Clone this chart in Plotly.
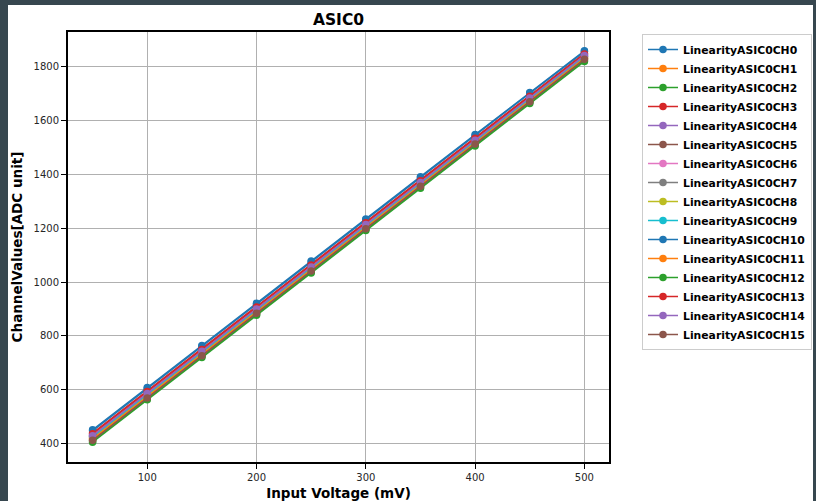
import plotly.graph_objects as go

voltages = [50, 100, 150, 200, 250, 300, 350, 400, 450, 500]

channel_names = [f"LinearityASIC0CH{i}" for i in range(16)]

ch0 = [452, 609, 765, 921, 1078, 1234, 1391, 1547, 1703, 1858]
ch1 = [420, 577, 734, 891, 1048, 1205, 1362, 1519, 1676, 1832]
ch2 = [410, 567, 724, 881, 1038, 1195, 1352, 1509, 1666, 1822]
ch3 = [440, 597, 753, 910, 1066, 1223, 1379, 1536, 1692, 1848]
ch4 = [432, 589, 745, 902, 1058, 1215, 1371, 1528, 1684, 1842]
ch5 = [415, 572, 729, 886, 1043, 1200, 1357, 1514, 1671, 1828]
ch6 = [434, 591, 747, 904, 1060, 1217, 1373, 1530, 1686, 1844]
ch7 = [428, 585, 741, 898, 1055, 1211, 1368, 1525, 1681, 1838]
ch8 = [424, 581, 738, 894, 1051, 1208, 1364, 1521, 1678, 1835]
ch9 = [426, 583, 740, 896, 1053, 1210, 1366, 1523, 1680, 1837]
ch10 = [448, 605, 761, 918, 1074, 1231, 1387, 1544, 1700, 1855]
ch11 = [418, 575, 732, 889, 1046, 1203, 1360, 1517, 1674, 1830]
ch12 = [406, 563, 720, 877, 1034, 1191, 1348, 1505, 1662, 1818]
ch13 = [437, 594, 750, 907, 1063, 1220, 1376, 1533, 1689, 1846]
ch14 = [430, 587, 743, 900, 1056, 1213, 1369, 1526, 1683, 1840]
ch15 = [413, 570, 727, 884, 1041, 1198, 1355, 1512, 1669, 1826]

channel_values = [ch0, ch1, ch2, ch3, ch4, ch5, ch6, ch7,
                  ch8, ch9, ch10, ch11, ch12, ch13, ch14, ch15]

x_ticks = [100, 200, 300, 400, 500]
y_ticks = [400, 600, 800, 1000, 1200, 1400, 1600, 1800]

palette = ["#1f77b4", "#ff7f0e", "#2ca02c", "#d62728", "#9467bd",
           "#8c564b", "#e377c2", "#7f7f7f", "#bcbd22", "#17becf"]

fig = go.Figure()
for i, (name, vals) in enumerate(zip(channel_names, channel_values)):
    c = palette[i % len(palette)]
    fig.add_trace(go.Scatter(
        x=voltages, y=vals, name=name, mode="lines+markers",
        line=dict(color=c, width=1.5),
        marker=dict(color=c, size=7.5, symbol="circle"),
    ))

W, H = 816, 501
L, R, T, B = 68, 207, 32, 39
pw, ph = W - L - R, H - T - B

def px(xp):
    return (xp - L) / pw

def py(yp):
    return (H - B - yp) / ph

fig.update_layout(
    width=W, height=H, autosize=False,
    margin=dict(l=L, r=R, t=T, b=B, pad=0),
    paper_bgcolor="#37474f",
    plot_bgcolor="white",
    font=dict(family="DejaVu Sans", color="#262626"),
    title=dict(text="<b>ASIC0</b>", xref="container", yref="container",
               x=338.5 / W, xanchor="center",
               y=1 - 20 / H, yanchor="middle",
               font=dict(size=15.5, color="black", family="DejaVu Sans")),
    shapes=[dict(type="rect", xref="paper", yref="paper",
                 x0=px(8), x1=px(813), y0=py(503), y1=py(5),
                 fillcolor="white", line=dict(width=0), layer="below")],
    legend=dict(
        xref="container", yref="container",
        x=642 / W, y=1 - 34 / H, xanchor="left", yanchor="top",
        maxheight=1000,
        bgcolor="white", bordercolor="#cccccc", borderwidth=1,
        font=dict(family="DejaVu Sans", size=10.8, color="black", weight="bold"),
        itemwidth=30,
    ),
    showlegend=True,
)

fig.update_xaxes(
    range=[27.5, 522.5], tickvals=x_ticks, ticktext=[str(v) for v in x_ticks],
    automargin=False,
    showgrid=True, gridcolor="#b0b0b0", gridwidth=1,
    showline=True, linecolor="black", linewidth=2, mirror=True,
    ticks="outside", ticklen=5, tickwidth=1.2, tickcolor="black",
    tickfont=dict(size=10, color="#262626"), zeroline=False,
    title=dict(text="<b>Input Voltage (mV)</b>", standoff=8,
               font=dict(size=13.5, color="black")),
)
fig.update_yaxes(
    range=[332.5, 1927.5], tickvals=y_ticks, ticktext=[str(v) for v in y_ticks],
    automargin=False,
    showgrid=True, gridcolor="#b0b0b0", gridwidth=1,
    showline=True, linecolor="black", linewidth=2, mirror=True,
    ticks="outside", ticklen=5, tickwidth=1.2, tickcolor="black",
    tickfont=dict(size=10, color="#262626"), zeroline=False,
    title=dict(text="<b>ChannelValues[ADC unit]</b>", standoff=8,
               font=dict(size=13.5, color="black")),
)

post = (
    "document.documentElement.style.margin='0';"
    "document.documentElement.style.overflow='hidden';"
    "document.body.style.margin='0';document.body.style.padding='0';"
    "document.body.style.overflow='hidden';"
)

fig.write_html("out.html",
               config={"responsive": False, "displayModeBar": False},
               post_script=post)
